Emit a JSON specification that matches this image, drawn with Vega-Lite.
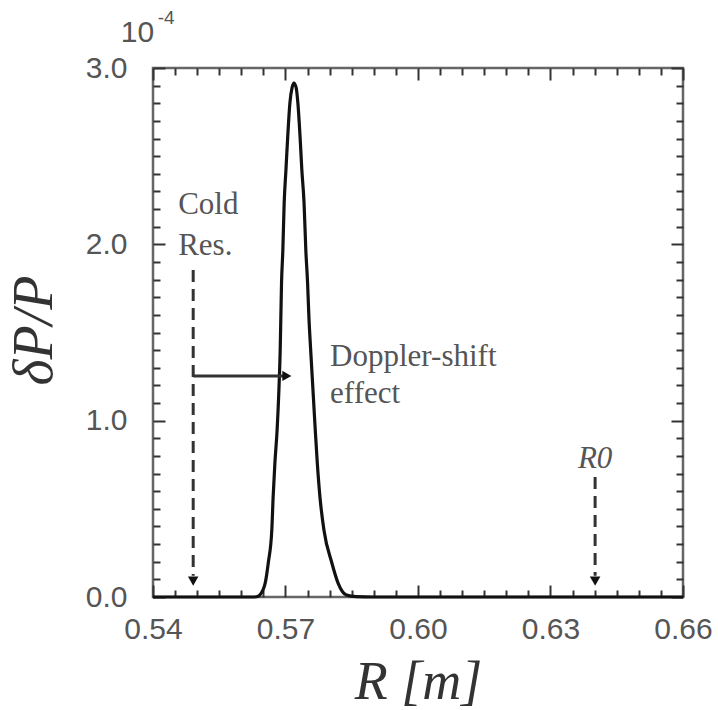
{
  "$schema": "https://vega.github.io/schema/vega-lite/v6.json",
  "width": 530,
  "height": 529,
  "autosize": "none",
  "padding": {"left": 153, "top": 68, "right": 35, "bottom": 113},
  "background": "white",
  "config": {
    "view": {"stroke": "#666", "strokeWidth": 2.5},
    "axis": {"domain": false, "grid": false, "tickColor": "#333", "tickWidth": 2, "labelColor": "#555", "labelFont": "Liberation Sans", "labelFontSize": 30, "labelFlush": false, "labelOverlap": false}
  },
  "resolve": {"axis": {"x": "independent", "y": "independent"}},
  "layer": [
    {
      "data": {"values": [
        {"R": 0.540, "v": 0}, {"R": 0.5630, "v": 0}, {"R": 0.5638, "v": 0.004}, {"R": 0.5642, "v": 0.012},
        {"R": 0.5654, "v": 0.079}, {"R": 0.5661, "v": 0.193}, {"R": 0.5669, "v": 0.380}, {"R": 0.5672, "v": 0.567},
        {"R": 0.5676, "v": 0.760}, {"R": 0.5681, "v": 0.947}, {"R": 0.5685, "v": 1.17}, {"R": 0.5688, "v": 1.401},
        {"R": 0.5691, "v": 1.781}, {"R": 0.5694, "v": 1.968}, {"R": 0.5697, "v": 2.235}, {"R": 0.5701, "v": 2.422},
        {"R": 0.5705, "v": 2.609}, {"R": 0.5710, "v": 2.802}, {"R": 0.5715, "v": 2.89}, {"R": 0.5719, "v": 2.915},
        {"R": 0.5724, "v": 2.89}, {"R": 0.5728, "v": 2.802}, {"R": 0.5733, "v": 2.609}, {"R": 0.5737, "v": 2.422},
        {"R": 0.5742, "v": 2.235}, {"R": 0.5746, "v": 1.968}, {"R": 0.5750, "v": 1.781}, {"R": 0.5753, "v": 1.588},
        {"R": 0.5757, "v": 1.401}, {"R": 0.5767, "v": 0.964}, {"R": 0.5772, "v": 0.760}, {"R": 0.5778, "v": 0.567},
        {"R": 0.5787, "v": 0.380}, {"R": 0.5805, "v": 0.193}, {"R": 0.5819, "v": 0.079}, {"R": 0.5838, "v": 0.011},
        {"R": 0.5860, "v": 0.002}, {"R": 0.5900, "v": 0}, {"R": 0.6600, "v": 0}
      ]},
      "mark": {"type": "line", "color": "#111", "strokeWidth": 3.2, "interpolate": "monotone"},
      "encoding": {
        "x": {"field": "R", "type": "quantitative", "scale": {"domain": [0.54, 0.66], "nice": false, "zero": false},
          "axis": {"orient": "bottom",
            "values": [0.54, 0.545, 0.55, 0.555, 0.56, 0.565, 0.57, 0.575, 0.58, 0.585, 0.59, 0.595, 0.6, 0.605, 0.61, 0.615, 0.62, 0.625, 0.63, 0.635, 0.64, 0.645, 0.65, 0.655, 0.66],
            "labelExpr": "abs(datum.value*100 - round(datum.value*100/3)*3) < 0.01 ? format(datum.value, '.2f') : ''",
            "tickSize": {"condition": {"test": "abs(datum.value*100 - round(datum.value*100/3)*3) < 0.01", "value": -12}, "value": -7},
            "labelPadding": 29,
            "title": "R [m]", "titleFont": "Liberation Serif", "titleFontStyle": "italic", "titleFontWeight": "normal", "titleFontSize": 54, "titleColor": "#333", "titleY": 101, "titleBaseline": "alphabetic"}},
        "y": {"field": "v", "type": "quantitative", "scale": {"domain": [0, 3], "nice": false, "zero": false},
          "axis": {"orient": "left",
            "values": [0, 0.1, 0.2, 0.3, 0.4, 0.5, 0.6, 0.7, 0.8, 0.9, 1, 1.1, 1.2, 1.3, 1.4, 1.5, 1.6, 1.7, 1.8, 1.9, 2, 2.1, 2.2, 2.3, 2.4, 2.5, 2.6, 2.7, 2.8, 2.9, 3],
            "labelExpr": "abs(datum.value - round(datum.value)) < 0.01 ? format(datum.value, '.1f') : ''",
            "tickSize": {"condition": {"test": "abs(datum.value - round(datum.value)) < 0.01", "value": -12}, "value": -7},
            "labelPadding": 38,
            "title": "δP/P", "titleFont": "Liberation Serif", "titleFontStyle": "italic", "titleFontWeight": "normal", "titleFontSize": 56, "titleColor": "#333", "titleX": -102, "titleY": 262, "titleBaseline": "alphabetic", "titleAngle": -90}}
      }
    },
    {
      "data": {"values": [
        {"x": 0.5491, "y": 1.855, "y2": 0.12},
        {"x": 0.6401, "y": 0.68, "y2": 0.12}
      ]},
      "mark": {"type": "rule", "color": "#333", "strokeWidth": 3, "strokeDash": [12, 7]},
      "encoding": {
        "x": {"field": "x", "type": "quantitative", "scale": {"domain": [0.54, 0.66], "nice": false, "zero": false}, "axis": null},
        "y": {"field": "y", "type": "quantitative", "scale": {"domain": [0, 3], "nice": false, "zero": false}, "axis": null},
        "y2": {"field": "y2"}
      }
    },
    {
      "data": {"values": [
        {"x": 0.5491, "x2": 0.5698, "y": 1.254}
      ]},
      "mark": {"type": "rule", "color": "#333", "strokeWidth": 3},
      "encoding": {
        "x": {"field": "x", "type": "quantitative", "scale": {"domain": [0.54, 0.66], "nice": false, "zero": false},
          "axis": {"orient": "top",
            "values": [0.54, 0.545, 0.55, 0.555, 0.56, 0.565, 0.57, 0.575, 0.58, 0.585, 0.59, 0.595, 0.6, 0.605, 0.61, 0.615, 0.62, 0.625, 0.63, 0.635, 0.64, 0.645, 0.65, 0.655, 0.66],
            "labels": false,
            "tickSize": {"condition": {"test": "abs(datum.value*100 - round(datum.value*100/3)*3) < 0.01", "value": -12}, "value": -7},
            "title": null}},
        "x2": {"field": "x2"},
        "y": {"field": "y", "type": "quantitative", "scale": {"domain": [0, 3], "nice": false, "zero": false},
          "axis": {"orient": "right",
            "values": [0, 0.1, 0.2, 0.3, 0.4, 0.5, 0.6, 0.7, 0.8, 0.9, 1, 1.1, 1.2, 1.3, 1.4, 1.5, 1.6, 1.7, 1.8, 1.9, 2, 2.1, 2.2, 2.3, 2.4, 2.5, 2.6, 2.7, 2.8, 2.9, 3],
            "labels": false,
            "tickSize": {"condition": {"test": "abs(datum.value - round(datum.value)) < 0.01", "value": -12}, "value": -7},
            "title": null}}
      }
    },
    {
      "data": {"values": [
        {"x": 0.5491, "y": 0.09, "shape": "triangle-down"},
        {"x": 0.6401, "y": 0.09, "shape": "triangle-down"},
        {"x": 0.5703, "y": 1.254, "shape": "triangle-right"}
      ]},
      "mark": {"type": "point", "filled": true, "color": "#111", "opacity": 1, "size": 110},
      "encoding": {
        "x": {"field": "x", "type": "quantitative", "scale": {"domain": [0.54, 0.66], "nice": false, "zero": false}, "axis": null},
        "y": {"field": "y", "type": "quantitative", "scale": {"domain": [0, 3], "nice": false, "zero": false}, "axis": null},
        "shape": {"field": "shape", "type": "nominal", "scale": null}
      }
    },
    {
      "data": {"values": [
        {"x": 0.5457, "y": 2.172, "label": "Cold"},
        {"x": 0.5457, "y": 1.940, "label": "Res."},
        {"x": 0.5801, "y": 1.310, "label": "Doppler-shift"},
        {"x": 0.5801, "y": 1.100, "label": "effect"}
      ]},
      "mark": {"type": "text", "font": "Liberation Serif", "fontSize": 31, "color": "#555", "align": "left", "baseline": "alphabetic"},
      "encoding": {
        "x": {"field": "x", "type": "quantitative", "scale": {"domain": [0.54, 0.66], "nice": false, "zero": false}, "axis": null},
        "y": {"field": "y", "type": "quantitative", "scale": {"domain": [0, 3], "nice": false, "zero": false}, "axis": null},
        "text": {"field": "label"}
      }
    },
    {
      "data": {"values": [
        {"x": 0.6401, "y": 0.732, "label": "R0"}
      ]},
      "mark": {"type": "text", "font": "Liberation Serif", "fontSize": 31, "fontStyle": "italic", "color": "#555", "align": "center", "baseline": "alphabetic"},
      "encoding": {
        "x": {"field": "x", "type": "quantitative", "scale": {"domain": [0.54, 0.66], "nice": false, "zero": false}, "axis": null},
        "y": {"field": "y", "type": "quantitative", "scale": {"domain": [0, 3], "nice": false, "zero": false}, "axis": null},
        "text": {"field": "label"}
      }
    },
    {
      "data": {"values": [
        {"x": 0.5365, "y": 3.196, "label": "10", "size": 30},
        {"x": 0.5430, "y": 3.281, "label": "-4", "size": 19}
      ]},
      "mark": {"type": "text", "font": "Liberation Sans", "color": "#555", "align": "center", "baseline": "middle"},
      "encoding": {
        "x": {"field": "x", "type": "quantitative", "scale": {"domain": [0.54, 0.66], "nice": false, "zero": false}, "axis": null},
        "y": {"field": "y", "type": "quantitative", "scale": {"domain": [0, 3], "nice": false, "zero": false}, "axis": null},
        "text": {"field": "label"},
        "size": {"field": "size", "type": "quantitative", "scale": null}
      }
    }
  ]
}
